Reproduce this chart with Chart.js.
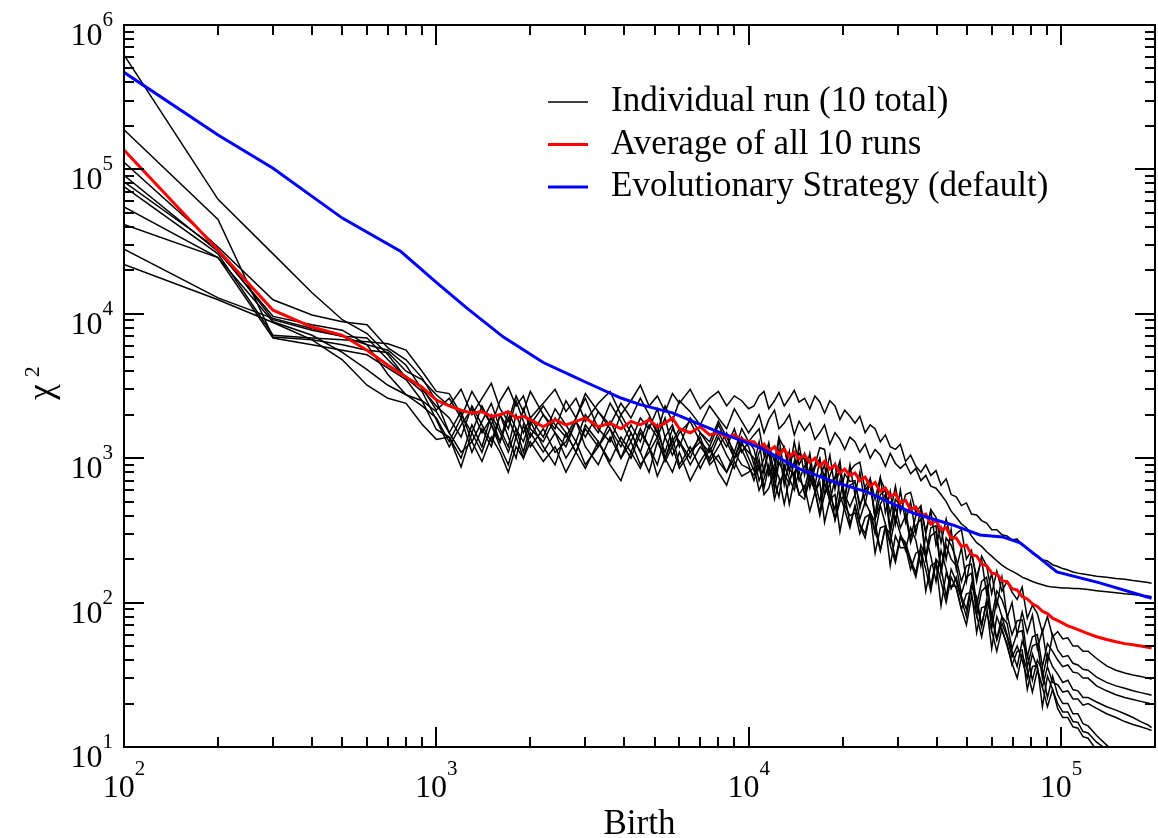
<!DOCTYPE html>
<html>
<head>
<meta charset="utf-8">
<script src="https://cdn.jsdelivr.net/npm/chart.js@4.4.0/dist/chart.umd.min.js"></script>
<style>
  html, body { margin: 0; padding: 0; background: #fff; }
  canvas { display: block; }
</style>
</head>
<body>
<canvas id="chiChart" width="1158" height="838"></canvas>
<script>
// birth counts where the runs were sampled
const births = [100, 200, 300, 400, 500, 600, 700, 800, 900, 1000,
  1100, 1200, 1300, 1400, 1500, 1600, 1700, 1800, 1900, 2000,
  2200, 2400, 2600, 2800, 3000, 3300, 3600, 3900, 4200, 4500, 4800, 5100, 5400, 5700, 6000, 6500, 7000, 7500, 8000, 8500, 9000, 9500, 10000,
  10400, 10800, 11200, 11600, 12100, 12500, 13000, 13500, 14000, 14500,
  15100, 15700, 16300, 16900, 17500, 18200, 18900, 19600, 20300, 21100,
  21900, 22700, 23600, 24500, 25400, 26400, 27400, 28400, 29500, 30600,
  31800, 33000, 34300, 35600, 36900, 38300, 39800, 41300, 42900, 44500,
  46200, 48000, 49800, 51700, 53700, 55700, 57800, 60000, 62300, 64700,
  67200, 69700, 72400, 75100, 78000, 81000, 84000, 87200, 90500, 94000,
  97600, 101300, 105200, 109200, 113300, 117600, 122100,
  130000, 140000, 150000, 160000, 170000, 180000, 190000, 195000];

// chi^2 of the 10 individual runs
const run1 = [620000, 62000, 26000, 14000, 9100, 7300, 5200, 3600, 3100, 2150,
  2600, 1900, 2900, 2200, 1700, 2500, 3100, 2300, 2700, 1900,
  2400, 3000, 2100, 2600, 1800, 2400, 2900, 2000, 2500, 3200, 2300, 2700, 2100, 2800, 2400, 3000, 2200, 2600, 2900, 2300, 2700, 2500, 2200,
  2300, 2700, 2900, 2200, 2500, 2850, 2300, 2600, 2950, 2450,
  2600, 2200, 2700, 2450, 2050, 2500, 2300, 1850, 2150, 1950,
  1750, 1950, 1500, 1700, 1600, 1300, 1450, 1200, 1150, 1250,
  950, 1050, 880, 800, 900, 760, 820, 650, 720, 560,
  540, 470, 490, 410, 405, 370, 355, 320, 320, 295,
  290, 272, 275, 250, 238, 218, 212, 198, 194, 183,
  178, 172, 168, 163, 160, 158, 156,
  152, 150, 147, 145, 142, 140, 138, 136];
const run2 = [188000, 45000, 6900, 6600, 6100, 5600, 5400, 4000, 3500, 2750,
  2300, 3000, 2000, 2600, 3300, 2200, 1800, 2700, 2100, 2900,
  2000, 1600, 2500, 1900, 2800, 2100, 1700, 2400, 1900, 2600, 2000, 1500, 2300, 1800, 2500, 2100, 1700, 2300, 1900, 1600, 2200, 1800, 1500,
  1700, 2000, 1500, 1850, 2150, 1600, 1750, 2000, 1450, 1800,
  1550, 1750, 1350, 1500, 1700, 1250, 1500, 1350, 1150, 1400,
  1300, 1100, 1250, 1000, 1150, 1050, 880, 1080, 920, 850,
  920, 780, 850, 700, 760, 640, 620, 560, 500, 430,
  390, 350, 330, 290, 260, 245, 225, 210, 195, 182,
  172, 165, 158, 150, 145, 140, 136, 133, 130, 128,
  127, 126, 126, 125, 125, 124, 123,
  121, 119, 117, 115, 114, 112, 111, 110];
const run3 = [112000, 29000, 12500, 9800, 8800, 8400, 5800, 4800, 3600, 2500,
  1500, 2100, 1300, 1800, 2400, 1600, 1200, 2000, 1500, 1900,
  1400, 2200, 1700, 1300, 2000, 1500, 2400, 1800, 1300, 1900, 1600, 2200, 1400, 1700, 1200, 1900, 1500, 1300, 1800, 1400, 1100, 1600, 1300,
  1450, 1600, 1050, 1200, 780, 1380, 1180, 800, 1300, 900,
  1080, 700, 900, 1180, 1150, 660, 740, 960, 520, 820,
  900, 940, 600, 680, 400, 720, 600, 410, 640, 420,
  560, 580, 420, 470, 300, 440, 390, 260, 380, 270,
  300, 320, 200, 230, 140, 210, 180, 115, 165, 120,
  140, 118, 105, 128, 78, 96, 84, 62, 80, 58,
  63, 56, 57, 50, 50, 46, 46,
  41, 36.5, 34, 32.5, 31.5, 30.8, 30, 29.5];
const run4 = [91000, 27000, 9600, 8400, 7700, 6100, 5600, 4400, 3000, 2300,
  1900, 1400, 2300, 1700, 1300, 2000, 1600, 2500, 1800, 1400,
  2000, 1500, 1200, 1800, 1400, 2100, 1600, 1200, 1700, 1300, 1900, 1500, 1100, 1600, 1300, 1000, 1500, 1200, 1700, 1300, 1000, 1400, 1200,
  900, 1300, 780, 1230, 950, 1380, 800, 1120, 680, 1250,
  760, 1080, 640, 980, 720, 1050, 610, 870, 530, 900,
  560, 800, 480, 720, 520, 740, 420, 590, 350, 600,
  360, 500, 300, 450, 310, 430, 250, 330, 200, 320,
  170, 240, 140, 220, 150, 200, 115, 160, 95, 150,
  78, 100, 60, 86, 62, 82, 48, 64, 38, 60,
  47, 42, 43, 38, 37, 34.5, 34,
  30.5, 28, 26.5, 25.5, 24.5, 23.8, 23.2, 22.8];
const run5 = [82000, 28000, 9100, 7700, 7000, 6800, 4800, 3600, 2900, 1850,
  1200, 1700, 2200, 1500, 1900, 1300, 2100, 1600, 1100, 1700,
  2300, 1700, 1400, 1900, 2600, 1600, 1300, 2000, 1500, 1100, 1700, 1400, 1900, 1200, 1500, 1800, 1300, 1100, 1500, 1200, 1600, 1100, 1300,
  1150, 820, 990, 1280, 700, 1060, 1200, 840, 760, 1080,
  980, 620, 860, 1000, 560, 760, 920, 530, 780, 690,
  700, 450, 640, 720, 380, 560, 600, 330, 520, 470,
  430, 280, 400, 410, 210, 330, 340, 170, 280, 250,
  200, 140, 180, 185, 95, 140, 150, 78, 120, 105,
  82, 60, 75, 76, 42, 58, 60, 36, 52, 46,
  40, 36, 37, 33, 32.5, 30, 30,
  26.5, 24.5, 23, 22, 21.3, 20.7, 20.2, 19.8];
const run6 = [76000, 26000, 7100, 6800, 6600, 6400, 6200, 5600, 4000, 2900,
  2800, 2000, 1500, 2300, 1700, 1300, 1900, 1400, 2200, 1600,
  1300, 1900, 1500, 1100, 1600, 1200, 1800, 1300, 1000, 1500, 1200, 1700, 1000, 1300, 1600, 1100, 1400, 950, 1200, 1500, 1000, 1300, 1000,
  820, 1100, 1250, 760, 900, 1150, 650, 980, 1050, 700,
  880, 960, 580, 740, 900, 500, 720, 820, 470, 650,
  680, 480, 560, 660, 380, 480, 560, 300, 460, 330,
  400, 260, 340, 380, 200, 290, 310, 160, 250, 200,
  180, 115, 150, 160, 82, 120, 130, 66, 105, 80,
  72, 48, 62, 64, 36, 50, 52, 30, 44, 36,
  32, 28, 29, 25, 24.5, 22, 22,
  20.5, 19, 18, 17, 16, 15, 14.2, 13.6];
const run7 = [55000, 24500, 6800, 6100, 5600, 5200, 4200, 3500, 2500, 1580,
  1400, 1000, 1700, 1200, 2000, 1500, 1100, 1600, 1300, 1800,
  1200, 900, 1500, 1100, 1700, 1300, 950, 1400, 1100, 1600, 1200, 900, 1400, 1050, 1300, 900, 1200, 1000, 1400, 1050, 850, 1250, 1100,
  1000, 700, 860, 1100, 600, 940, 780, 660, 950, 720,
  620, 860, 680, 500, 760, 560, 440, 700, 560, 460,
  560, 380, 500, 420, 300, 470, 350, 260, 390, 300,
  230, 330, 270, 180, 290, 210, 140, 230, 170, 125,
  150, 110, 90, 135, 100, 68, 105, 80, 55, 72,
  58, 42, 50, 40, 30, 44, 35, 26, 36, 28,
  27, 24, 24.5, 21.5, 21.5, 19.5, 20,
  18.5, 17, 16, 15, 14.3, 13.8, 13.3, 13];
const run8 = [41500, 24500, 8800, 7100, 5400, 4100, 3200, 2750, 2300, 1900,
  1300, 1900, 1100, 1600, 1200, 2000, 1400, 1000, 1700, 1200,
  1600, 1100, 1300, 1800, 1200, 900, 1400, 1000, 1500, 1100, 800, 1300, 1000, 1400, 900, 1200, 850, 1150, 950, 800, 1100, 900, 850,
  760, 980, 620, 880, 700, 540, 900, 720, 600, 820,
  560, 760, 600, 420, 680, 500, 380, 560, 440, 330,
  470, 350, 300, 420, 320, 230, 340, 250, 190, 280,
  250, 190, 150, 230, 170, 120, 190, 140, 100, 150,
  125, 90, 70, 110, 82, 58, 85, 64, 46, 66,
  50, 38, 30, 44, 34, 24, 34, 26, 19, 25,
  18.5, 16, 16, 13.8, 13.5, 11.8, 11.5,
  9.5, 8.6, 7.9, 7.3, 6.8, 6.4, 6, 5.8];
const run9 = [28000, 12900, 9300, 7900, 7000, 6100, 3800, 2750, 2500, 2100,
  1500, 1100, 1300, 950, 1400, 1100, 800, 1200, 1000, 1300,
  950, 1200, 800, 1100, 850, 1300, 900, 700, 1100, 850, 1200, 750, 1000, 800, 1100, 700, 950, 1200, 800, 650, 950, 750, 800,
  860, 600, 720, 900, 520, 680, 780, 480, 720, 560,
  640, 430, 580, 680, 360, 520, 560, 310, 470, 400,
  420, 300, 390, 410, 220, 330, 340, 180, 290, 240,
  240, 170, 220, 230, 120, 180, 190, 95, 160, 130,
  130, 90, 115, 118, 62, 92, 95, 48, 80, 64,
  52, 37, 46, 47, 25, 36, 37, 19, 31, 25,
  20, 17.5, 17.5, 15, 14.8, 12.8, 12.5,
  10.8, 9.6, 8.8, 8.1, 7.5, 7, 6.6, 6.4];
const run10 = [22000, 12500, 8700, 6600, 4800, 3200, 2600, 2400, 1720, 1350,
  1400, 870, 1500, 1100, 1700, 1200, 900, 1400, 1000, 1500,
  1100, 1500, 1000, 1300, 900, 1200, 1600, 1000, 1300, 900, 1100, 1400, 950, 1200, 850, 1100, 1300, 900, 1050, 800, 1000, 1150, 900,
  700, 900, 560, 620, 850, 740, 480, 720, 800, 560,
  520, 720, 600, 400, 560, 660, 370, 500, 560, 350,
  460, 340, 280, 420, 360, 230, 330, 300, 200, 290,
  260, 200, 160, 250, 210, 130, 200, 175, 110, 170,
  140, 105, 80, 130, 110, 70, 100, 85, 56, 80,
  60, 46, 36, 54, 44, 29, 40, 34, 22, 31,
  23, 20, 20, 17, 17, 14.5, 14,
  12, 10.3, 9.2, 8.4, 7.8, 7.3, 6.9, 6.6];

// average of the 10 runs
const average = [136000, 27700, 10600, 8100, 7100, 5600, 4400, 3650, 3100, 2530,
  2300, 2150, 2050, 2100, 1950, 2000, 2100, 1900, 1950, 1850,
  1650, 1850, 1700, 1800, 1900, 1650, 1750, 1600, 1800, 1700, 1850, 1650, 1750, 1900, 1600, 1500, 1650, 1450, 1500, 1400, 1450, 1350, 1300,
  1300, 1180, 1250, 1120, 1200, 1060, 1150, 1020, 1100, 990,
  1050, 940, 1000, 880, 950, 840, 900, 790, 840, 760,
  790, 700, 740, 640, 680, 590, 620, 540, 570, 490,
  510, 440, 460, 400, 410, 350, 370, 320, 330, 280,
  280, 245, 250, 215, 210, 185, 180, 160, 158, 142,
  140, 125, 122, 110, 106, 98, 94, 87, 84, 78,
  75, 72, 69, 67, 65, 63, 61,
  58, 55.5, 53.5, 52, 51, 50, 49, 48.5];

// evolutionary strategy (default)
const esBirths = [100, 200, 300, 500, 770, 1000, 1250, 1640, 2200, 2700, 3000, 3900, 4500, 5700, 7700,
  10900, 14600, 19000, 24000, 33600, 45000, 55000, 65000, 74000, 85000, 97000, 133000, 190000, 195000];
const esChi2 = [470000, 173000, 102000, 46000, 27000, 16500, 11000, 6900, 4600, 3750, 3370, 2610, 2350, 2060, 1570,
  1180, 840, 680, 583, 417, 345, 294, 285, 259, 205, 163, 137, 109, 107];

const legendLabels = ['Individual run (10 total)', 'Average of all 10 runs', 'Evolutionary Strategy (default)'];
const xTitle = 'Birth';
const yTitle = 'χ';
const yTitleSup = '2';

const runs = [run1, run2, run3, run4, run5, run6, run7, run8, run9, run10];
const toPoints = (xs, ys) => xs.map((x, i) => ({ x: x, y: ys[i] }));

const serif = '"Liberation Serif", "Times New Roman", serif';

// 1..9 x 10^n between the scale limits
function logTicks(min, max) {
  const out = [];
  for (let e = Math.floor(Math.log10(min)); e <= Math.ceil(Math.log10(max)); e++) {
    for (let m = 1; m <= 9; m++) {
      const v = m * Math.pow(10, e);
      if (v >= min * 0.999 && v <= max * 1.001) out.push({ value: v, exp: e, major: m === 1 });
    }
  }
  return out;
}

function powerLabel(ctx, exp, x, y, supY) {
  ctx.font = '32px ' + serif;
  ctx.fillText('10', x, y);
  const w = ctx.measureText('10').width;
  ctx.font = '21px ' + serif;
  ctx.fillText(String(exp), x + w, supY);
}
function powerWidth(ctx, exp) {
  ctx.font = '32px ' + serif;
  const w1 = ctx.measureText('10').width;
  ctx.font = '21px ' + serif;
  return w1 + ctx.measureText(String(exp)).width;
}

const gracePlot = {
  id: 'gracePlot',
  beforeDraw(chart) {
    const ctx = chart.ctx;
    ctx.save();
    ctx.fillStyle = '#fff';
    ctx.fillRect(0, 0, chart.width, chart.height);
    ctx.restore();
  },
  afterDraw(chart) {
    const ctx = chart.ctx;
    const a = chart.chartArea;
    const xs = chart.scales.x, ys = chart.scales.y;
    const xTicks = logTicks(xs.min, xs.max);
    const yTicks = logTicks(ys.min, ys.max);
    ctx.save();
    ctx.strokeStyle = '#000';
    ctx.fillStyle = '#000';
    ctx.lineWidth = 2;
    ctx.strokeRect(a.left, a.top, a.right - a.left, a.bottom - a.top);

    // inward ticks on all four sides
    ctx.beginPath();
    xTicks.forEach(t => {
      const px = Math.round(xs.getPixelForValue(t.value));
      const len = t.major ? 20 : 10;
      ctx.moveTo(px, a.bottom); ctx.lineTo(px, a.bottom - len);
      ctx.moveTo(px, a.top); ctx.lineTo(px, a.top + len);
    });
    yTicks.forEach(t => {
      const py = Math.round(ys.getPixelForValue(t.value));
      const len = t.major ? 20 : 10;
      ctx.moveTo(a.left, py); ctx.lineTo(a.left + len, py);
      ctx.moveTo(a.right, py); ctx.lineTo(a.right - len, py);
    });
    ctx.stroke();

    // tick labels 10^n
    ctx.textAlign = 'left';
    ctx.textBaseline = 'alphabetic';
    xTicks.filter(t => t.major).forEach(t => {
      const px = xs.getPixelForValue(t.value);
      const w = powerWidth(ctx, t.exp);
      powerLabel(ctx, t.exp, px - w / 2, a.bottom + 50, a.bottom + 28);
    });
    yTicks.filter(t => t.major).forEach(t => {
      const py = ys.getPixelForValue(t.value);
      const w = powerWidth(ctx, t.exp);
      powerLabel(ctx, t.exp, a.left - 11 - w, py + 20, py + 1);
    });

    // axis titles
    ctx.font = '35px ' + serif;
    ctx.textAlign = 'center';
    ctx.fillText(xTitle, (a.left + a.right) / 2, 834);
    ctx.save();
    ctx.translate(52, (a.top + a.bottom) / 2);
    ctx.rotate(-Math.PI / 2);
    ctx.textAlign = 'left';
    ctx.font = '35px ' + serif;
    const cw = ctx.measureText(yTitle).width;
    ctx.fillText(yTitle, -cw / 2 - 6, 0);
    ctx.font = '22px ' + serif;
    ctx.fillText(yTitleSup, cw / 2 + 1, -13);
    ctx.restore();

    // legend
    const entries = [chart.data.datasets[2], chart.data.datasets[1], chart.data.datasets[0]];
    ctx.font = '35px ' + serif;
    ctx.textAlign = 'left';
    legendLabels.forEach((label, i) => {
      const y = 102 + i * 42.5;
      ctx.strokeStyle = entries[i].borderColor;
      ctx.lineWidth = entries[i].borderWidth;
      ctx.beginPath();
      ctx.moveTo(548, y);
      ctx.lineTo(588, y);
      ctx.stroke();
      ctx.fillText(label, 611, y + 9);
    });
    ctx.restore();
  }
};

const datasets = [
  { label: legendLabels[2], data: toPoints(esBirths, esChi2), borderColor: '#0000ff', borderWidth: 3, order: 0 },
  { label: legendLabels[1], data: toPoints(births, average), borderColor: '#ff0000', borderWidth: 3, order: 1 }
].concat(runs.map(r => ({
  label: legendLabels[0], data: toPoints(births, r), borderColor: '#000000', borderWidth: 1.5, order: 2
})));

new Chart(document.getElementById('chiChart').getContext('2d'), {
  type: 'line',
  data: { datasets: datasets },
  options: {
    responsive: false,
    animation: false,
    devicePixelRatio: 1,
    layout: { padding: { left: 124, right: 3, top: 25, bottom: 91 } },
    elements: {
      point: { radius: 0, hoverRadius: 0 },
      line: { tension: 0, fill: false }
    },
    plugins: {
      legend: { display: false },
      tooltip: { enabled: false }
    },
    scales: {
      x: { type: 'logarithmic', min: 100, max: 200000, display: false },
      y: { type: 'logarithmic', min: 10, max: 1000000, display: false }
    }
  },
  plugins: [gracePlot]
});
</script>
</body>
</html>
